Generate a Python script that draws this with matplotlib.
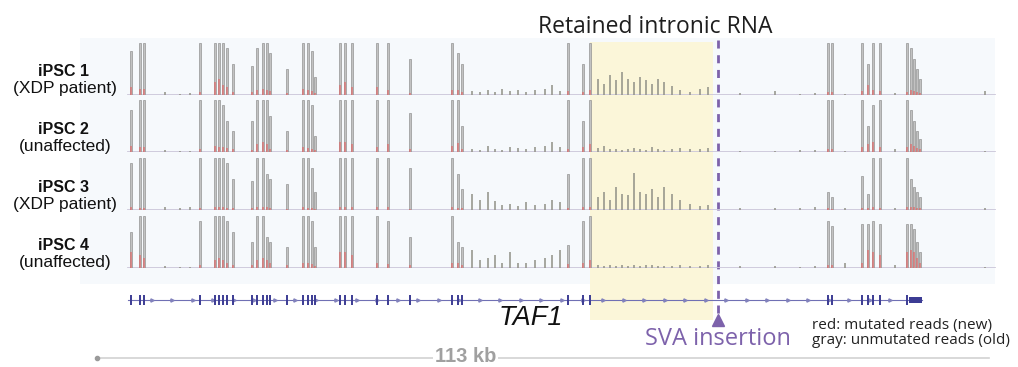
import numpy as np
import matplotlib
matplotlib.use("Agg")
import matplotlib.pyplot as plt
from matplotlib.patches import Rectangle

# ---------------------------------------------------------------- data
samples = ["iPSC 1", "iPSC 2", "iPSC 3", "iPSC 4"]
conditions = ["(XDP patient)", "(unaffected)", "(XDP patient)", "(unaffected)"]

# exon coverage peak positions (kb from the start of the window)
exon_kb = [0.38, 1.52, 2.03, 9.12, 11.02, 11.53, 12.04, 12.55, 13.31, 15.71,
           16.35, 17.11, 17.61, 17.99, 20.15, 22.18, 22.81, 23.32, 23.70, 26.86,
           27.50, 28.39, 31.55, 32.95, 35.74, 41.06, 41.82, 42.32, 55.76, 57.66,
           58.54, 88.70, 89.21, 93.01, 93.77, 94.40, 95.29, 98.71, 99.22, 99.60,
           99.98, 100.36]

# unmutated (old) read coverage on exons, fraction of track height
gray_exon = [
    [0.85, 1, 1, 1, 1, 1, 1, 0.9, 0.6, 0.55, 0.9, 1, 1, 0.8, 0.5, 1, 1, 0.85, 0.35, 1,
     1, 1, 1, 1, 0.7, 1, 0.8, 0.6, 1, 0.6, 1, 1, 1, 1, 0.6, 1, 1, 1, 0.9, 0.7, 0.5, 0.3],
    [0.8, 1, 1, 1, 1, 1, 0.9, 0.6, 0.4, 0.6, 1, 1, 1, 0.7, 0.4, 1, 1, 0.9, 0.3, 1,
     1, 1, 1, 1, 0.75, 1, 1, 0.5, 1, 0.6, 1, 1, 1, 1, 0.5, 0.9, 1, 1, 0.8, 0.6, 0.4, 0.25],
    [0.9, 1, 1, 1, 1, 1, 1, 0.9, 0.6, 0.55, 1, 1, 0.7, 0.6, 0.5, 1, 1, 0.8, 0.35, 1,
     1, 1, 1, 1, 0.8, 1, 0.7, 0.4, 0.7, 1, 1, 0.35, 0.25, 0.65, 0.3, 1, 1, 1, 0.6, 0.45, 0.35, 0.25],
    [0.7, 1, 1, 0.9, 1, 1, 1, 0.9, 0.7, 0.5, 1, 1, 0.6, 0.5, 0.4, 1, 1, 0.9, 0.4, 1,
     1, 1, 1, 0.9, 0.6, 1, 0.5, 0.4, 0.45, 0.9, 1, 0.9, 0.8, 0.85, 0.85, 0.9, 0.85, 0.85, 0.85, 0.75, 0.5, 0.3],
]

# mutated (new) read coverage on exons
red_exon = [
    [0.15, 0.12, 0.12, 0.05, 0.25, 0.3, 0.2, 0.15, 0.05, 0.05, 0.1, 0.12, 0.1, 0.08, 0.03, 0.12, 0.1, 0.08, 0.03, 0.2,
     0.25, 0.15, 0.15, 0.1, 0.03, 0.1, 0.1, 0.05, 0.08, 0.05, 0.1, 0.05, 0.05, 0.08, 0.2, 0.1, 0.08, 0.06, 0.1, 0.08, 0.06, 0.04],
    [0.12, 0.1, 0.1, 0.05, 0.12, 0.1, 0.1, 0.08, 0.05, 0.04, 0.15, 0.2, 0.15, 0.05, 0.03, 0.1, 0.08, 0.06, 0.03, 0.2,
     0.2, 0.15, 0.1, 0.15, 0.05, 0.12, 0.18, 0.05, 0.05, 0.1, 0.15, 0.05, 0.05, 0.1, 0.15, 0.2, 0.1, 0.1, 0.15, 0.12, 0.08, 0.05],
    [0.05, 0.04, 0.04, 0.03, 0.05, 0.06, 0.05, 0.04, 0.03, 0.03, 0.05, 0.06, 0.05, 0.03, 0.02, 0.05, 0.04, 0.04, 0.02, 0.06,
     0.06, 0.05, 0.05, 0.05, 0.02, 0.05, 0.04, 0.03, 0.04, 0.05, 0.05, 0.03, 0.02, 0.04, 0.04, 0.05, 0.04, 0.05, 0.06, 0.05, 0.04, 0.03],
    [0.3, 0.25, 0.2, 0.05, 0.15, 0.2, 0.15, 0.1, 0.05, 0.05, 0.15, 0.2, 0.15, 0.1, 0.05, 0.1, 0.1, 0.08, 0.04, 0.3,
     0.3, 0.25, 0.1, 0.08, 0.05, 0.1, 0.1, 0.05, 0.08, 0.1, 0.15, 0.05, 0.05, 0.1, 0.35, 0.3, 0.25, 0.3, 0.35, 0.3, 0.2, 0.1],
]

# intronic read peaks (kb)
intron_kb = [4.69, 6.59, 7.86,
             43.59, 44.61, 45.62, 46.51, 47.39, 48.41, 49.42, 50.43, 51.58, 52.84, 53.73, 54.74,
             59.56, 60.32, 61.08, 61.84, 62.60, 63.36, 64.12, 64.88, 65.64, 66.40, 67.16, 67.92,
             68.94, 69.95, 71.22, 72.48, 73.50,
             77.55, 81.99, 85.16, 87.06, 90.86, 97.19, 108.60]

intron_cov = [
    [0.06, 0.02, 0.03,
     0.08, 0.05, 0.10, 0.06, 0.12, 0.08, 0.10, 0.06, 0.09, 0.12, 0.20, 0.08,
     0.30, 0.22, 0.38, 0.28, 0.45, 0.30, 0.25, 0.35, 0.28, 0.22, 0.30, 0.25, 0.18, 0.10, 0.06, 0.12, 0.15,
     0.03, 0.08, 0.02, 0.04, 0.02, 0.03, 0.08],
    [0.03, 0.02, 0.02,
     0.06, 0.04, 0.12, 0.05, 0.04, 0.10, 0.08, 0.06, 0.10, 0.12, 0.20, 0.10,
     0.08, 0.12, 0.06, 0.05, 0.04, 0.06, 0.08, 0.05, 0.04, 0.10, 0.06, 0.04, 0.05, 0.08, 0.06, 0.05, 0.07,
     0.02, 0.02, 0.03, 0.04, 0.02, 0.05, 0.02],
    [0.05, 0.04, 0.06,
     0.30, 0.20, 0.35, 0.18, 0.10, 0.12, 0.08, 0.15, 0.10, 0.12, 0.20, 0.15,
     0.25, 0.35, 0.20, 0.45, 0.30, 0.28, 0.72, 0.35, 0.30, 0.40, 0.25, 0.45, 0.30, 0.20, 0.12, 0.08, 0.10,
     0.03, 0.03, 0.04, 0.05, 0.03, 0.04, 0.03],
    [0.03, 0.02, 0.02,
     0.35, 0.15, 0.20, 0.25, 0.10, 0.30, 0.10, 0.10, 0.15, 0.20, 0.25, 0.35,
     0.05, 0.04, 0.06, 0.03, 0.05, 0.04, 0.06, 0.04, 0.05, 0.05, 0.04, 0.03, 0.04, 0.05, 0.03, 0.04, 0.05,
     0.03, 0.03, 0.02, 0.03, 0.10, 0.05, 0.02],
]

# gene model (TAF1): coding exons and 3' UTR block
gene_start_kb, gene_end_kb = 0.0, 100.6
gene_exons_kb = exon_kb[:38]
utr_kb = (99.0, 100.6)

window_kb = 109.9          # displayed window
retained_kb = (58.55, 74.14)
sva_kb = 74.77
scale_start_kb, scale_len_kb = -3.9, 113

# ---------------------------------------------------------------- layout
W, H = 1018, 367
KB_PX = 7.891              # pixels per kb
X0_PX = 128                # pixel column of window start
xlim = (-X0_PX / KB_PX, (W - X0_PX) / KB_PX)
baselines_px = [95, 152, 210, 268]
track_h_px = 52

GRAY = "#c2c2c2"
GRAY_EDGE = "#8c8c8c"
RED = "#e46464"
PURPLE = "#7d62ab"
GENE = "#3c3c94"

fig = plt.figure(figsize=(W / 100, H / 100), dpi=100)
ax = fig.add_axes([0, 0, 1, 1])
ax.set_xlim(*xlim)
ax.set_ylim(H, 0)
ax.axis("off")

# pale panel background and retained intron highlight
ax.add_patch(Rectangle((-48 / KB_PX, 38), (995 - 80) / KB_PX, 246,
                       facecolor="#f6f9fc", edgecolor="none", zorder=0))
ax.add_patch(Rectangle((retained_kb[0], 42), retained_kb[1] - retained_kb[0], 278,
                       facecolor="#fbf6d9", edgecolor="none", zorder=1))

# SVA insertion marker
ax.plot([sva_kb, sva_kb], [40, 315], color=PURPLE, lw=2.0,
        linestyle=(0, (2.9, 2.4)), zorder=5)
ax.plot([sva_kb], [320], marker="^", markersize=8, color=PURPLE, zorder=5)
ax.text(sva_kb, 339, "SVA insertion", color=PURPLE, fontsize=17,
        family="Open Sans", ha="center", va="center")
ax.text(sum(retained_kb) / 2 + 0.5, 27, "Retained intronic RNA", color="#1e1e1e",
        fontsize=16.5, family="Open Sans", ha="center", va="center")

# gene model
ax.plot([gene_start_kb, gene_end_kb], [300, 300], color="#7070b4", lw=0.8, zorder=3)
for s in np.arange(3.0, 99.0, 2.6):
    ax.plot([s], [300], marker=">", markersize=2.3, color="#8282bc", zorder=3)
ax.vlines(gene_exons_kb, 295, 305, color=GENE, lw=1.4, zorder=4)
ax.add_patch(Rectangle((utr_kb[0], 297), utr_kb[1] - utr_kb[0], 6,
                       facecolor=GENE, edgecolor="none", zorder=4))
ax.text(51.1, 318, "TAF1", fontsize=19.5, style="italic", family="Liberation Sans",
        color="#111111", ha="center", va="center")

# read colour key
ax.text(86.7, 326, "red: mutated reads (new)", fontsize=11, family="Open Sans",
        color="#222222", ha="left", va="center")
ax.text(86.7, 341, "gray: unmutated reads (old)", fontsize=11, family="Open Sans",
        color="#222222", ha="left", va="center")

# scale bar
ax.plot([scale_start_kb, scale_start_kb + scale_len_kb], [358, 358],
        color="#d2d2d2", lw=1.2, zorder=2)
ax.plot([scale_start_kb], [358], marker="o", markersize=3, color="#9a9a9a")
ax.text(42.8, 356, f"{scale_len_kb} kb", fontsize=14.5, fontweight="bold",
        family="Liberation Sans", color="#a0a0a0", ha="center", va="center",
        bbox=dict(facecolor="white", edgecolor="none", pad=1.5), zorder=3)

# sample labels
for name, cond, yb in zip(samples, conditions, baselines_px):
    ax.text(-8.2, yb - 23, name, fontsize=11.5, fontweight="bold",
            family="Liberation Sans", color="#111111", ha="center", va="center")
    ax.text(-8.0, yb - 6, cond, fontsize=12.5, family="Liberation Sans",
            color="#111111", ha="center", va="center")

# coverage tracks
for i, yb in enumerate(baselines_px):
    ta = fig.add_axes([0, 1 - yb / H, 1, track_h_px / H])
    ta.set_xlim(*xlim)
    ta.set_ylim(0, 1)
    ta.patch.set_alpha(0)
    ta.axis("off")
    ta.plot([0, window_kb], [0, 0], color="#cdc8da", lw=1.3, zorder=1)
    ta.bar(intron_kb, intron_cov[i], width=0.2, color="#94948a", alpha=0.8,
           linewidth=0, zorder=2)
    ta.bar(exon_kb, gray_exon[i], width=0.32, color=GRAY, edgecolor=GRAY_EDGE,
           linewidth=0.45, zorder=3)
    ta.bar(exon_kb, red_exon[i], width=0.32, color=RED, alpha=0.6,
           linewidth=0, zorder=4)

fig.savefig("out.png", dpi=100)
